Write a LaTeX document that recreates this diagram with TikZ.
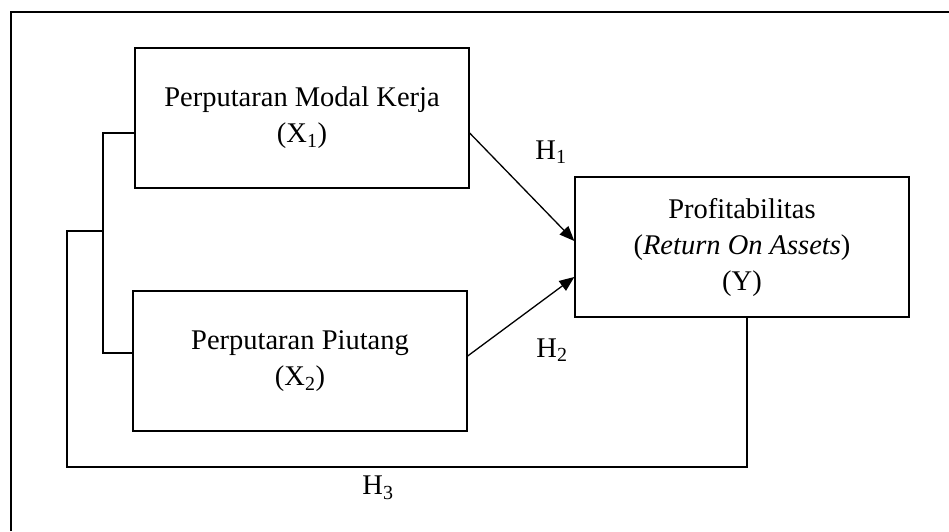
\documentclass[tikz,border=0pt]{standalone}
\usepackage{fontspec}
\setmainfont{Liberation Serif}
\usepackage{tikz}
\usetikzlibrary{arrows.meta}

\tikzset{
	varbox/.style={draw, line width=1.3pt, minimum width=334pt, minimum height=140pt, align=center, inner sep=0pt},
	link/.style={line width=1.3pt},
	arr/.style={line width=1.3pt, -{Triangle[length=15pt, width=12pt]}},
	hlabel/.style={inner sep=0pt}
}

\begin{document}
\begin{tikzpicture}[x=1pt, y=-1pt, font=\fontsize{28.5}{36}\selectfont]
			\useasboundingbox (0,0) rectangle (949,531);
			\draw[line width=2.6pt] (11,531) -- (11,12) -- (949,12);
			\node[varbox] (x1) at (302,118) {Perputaran Modal Kerja\\(X\textsubscript{1})};
			\node[varbox] (x2) at (300,361) {Perputaran Piutang\\(X\textsubscript{2})};
			\node[varbox] (y) at (742,247) {Profitabilitas\\(\textit{Return On Assets})\\(Y)};
			\coordinate (b1) at (103,133);
			\coordinate (b2) at (103,353);
			\coordinate (b3) at (103,231);
			\coordinate (b4) at (67,231);
			\coordinate (b5) at (67,467);
			\coordinate (b6) at (747,467);
			\coordinate (s1) at (469,133);
			\coordinate (s2) at (469,356);
			\coordinate (t1) at (575,241);
			\coordinate (t2) at (575,277);
			\draw[link] (x1.west |- b1) -- (b1) -- (b2) -- (x2.west |- b2);
			\draw[link] (b3) -- (b4) -- (b5) -- (b6) -- (y.south -| b6);
			\draw[arr] (x1.east |- s1) -- (y.west |- t1);
			\draw[arr] (x2.east |- s2) -- (y.west |- t2);
			\node[hlabel] (h1) at (551,152) {H\textsubscript{1}};
			\node[hlabel] (h2) at (552,350) {H\textsubscript{2}};
			\node[hlabel] (h3) at (378,488) {H\textsubscript{3}};
		\end{tikzpicture}
\end{document}
